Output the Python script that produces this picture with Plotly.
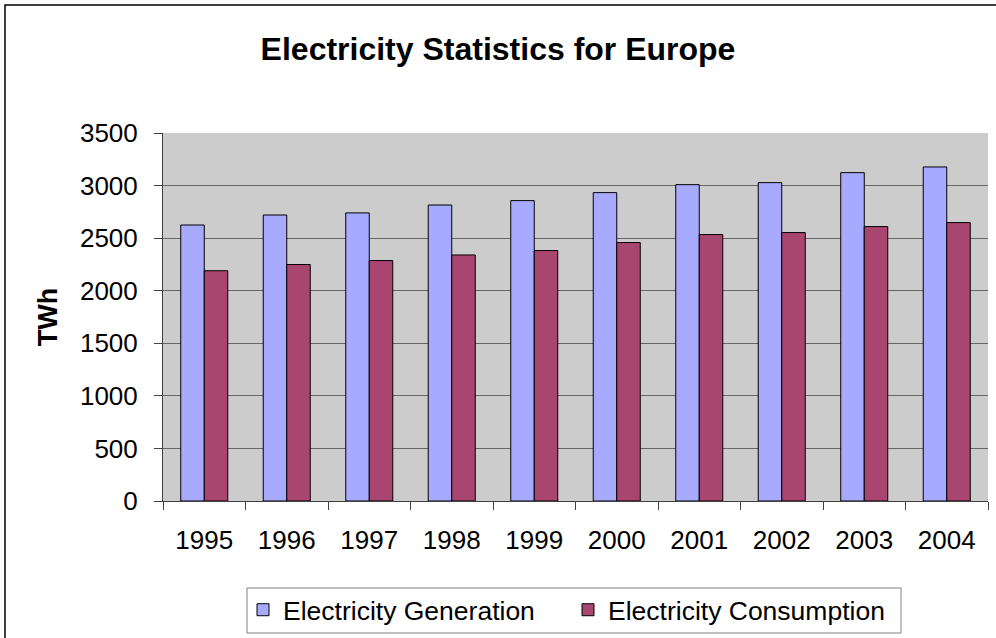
import plotly.graph_objects as go

years = ["1995", "1996", "1997", "1998", "1999", "2000", "2001", "2002", "2003", "2004"]
generation = [2625, 2720, 2740, 2815, 2857, 2933, 3009, 3028, 3123, 3177]
consumption = [2190, 2249, 2287, 2340, 2382, 2458, 2534, 2553, 2610, 2648]

gen_color = "#A8AAFF"
con_color = "#A8466F"

W, H = 996, 638
L, R, T, B = 163, 8, 133, 137
pw = W - L - R
ph = H - T - B

fig = go.Figure()
fig.add_trace(go.Bar(x=years, y=generation, name="Electricity Generation",
                     marker=dict(color=gen_color, line=dict(color="#000000", width=1))))
fig.add_trace(go.Bar(x=years, y=consumption, name="Electricity Consumption",
                     marker=dict(color=con_color, line=dict(color="#000000", width=1))))

font_family = "Liberation Sans, Arial, sans-serif"

fig.update_layout(
    width=W, height=H,
    margin=dict(l=L, r=R, t=T, b=B, autoexpand=False),
    paper_bgcolor="white",
    plot_bgcolor="#CCCCCC",
    barmode="group",
    bargap=0.43,
    bargroupgap=0,
    font=dict(family=font_family, size=25, color="#000000"),
    title=dict(text="<b>Electricity Statistics for Europe</b>",
               x=0.5, xanchor="center", xref="container",
               y=1 - 49 / H, yanchor="middle", yref="container",
               font=dict(size=32, family=font_family, color="#000000")),
    showlegend=True,
    legend=dict(orientation="h",
                x=(243 - L) / pw, xanchor="left",
                y=(H - B - 586) / ph, yanchor="top",
                borderwidth=0,
                bgcolor="rgba(0,0,0,0)",
                font=dict(size=26.5, family=font_family),
                itemwidth=30, entrywidth=280, entrywidthmode="pixels"),
    xaxis=dict(type="category", showline=True, linecolor="#404040", linewidth=1,
               ticks="outside", tickson="boundaries", ticklen=8, tickcolor="#404040",
               showgrid=False, ticklabelstandoff=16, automargin=False,
               tickfont=dict(size=26), range=[-0.5, 9.5]),
    yaxis=dict(range=[0, 3500], dtick=500, showline=True, linecolor="#404040", linewidth=1,
               ticks="outside", ticklen=8, tickcolor="#404040",
               showgrid=True, gridcolor="#666666", gridwidth=1, automargin=False,
               ticklabelstandoff=11, tickfont=dict(size=26),
               title=dict(text="<b>TWh</b>", font=dict(size=27), standoff=14),
               zeroline=False),
)

# outer chart border
fig.add_shape(type="rect", xref="paper", yref="paper",
              x0=(5 - L) / pw, x1=(W + 10 - L) / pw,
              y0=(H - B - (H + 10)) / ph, y1=(H - B - 5) / ph,
              line=dict(color="#000000", width=1.5), fillcolor="rgba(0,0,0,0)", layer="below")
# legend box
fig.add_shape(type="rect", xref="paper", yref="paper",
              x0=(247 - L) / pw, x1=(901 - L) / pw,
              y0=(H - B - 633) / ph, y1=(H - B - 588) / ph,
              line=dict(color="#808080", width=1), fillcolor="white", layer="below")

fig.write_html("out.html")
